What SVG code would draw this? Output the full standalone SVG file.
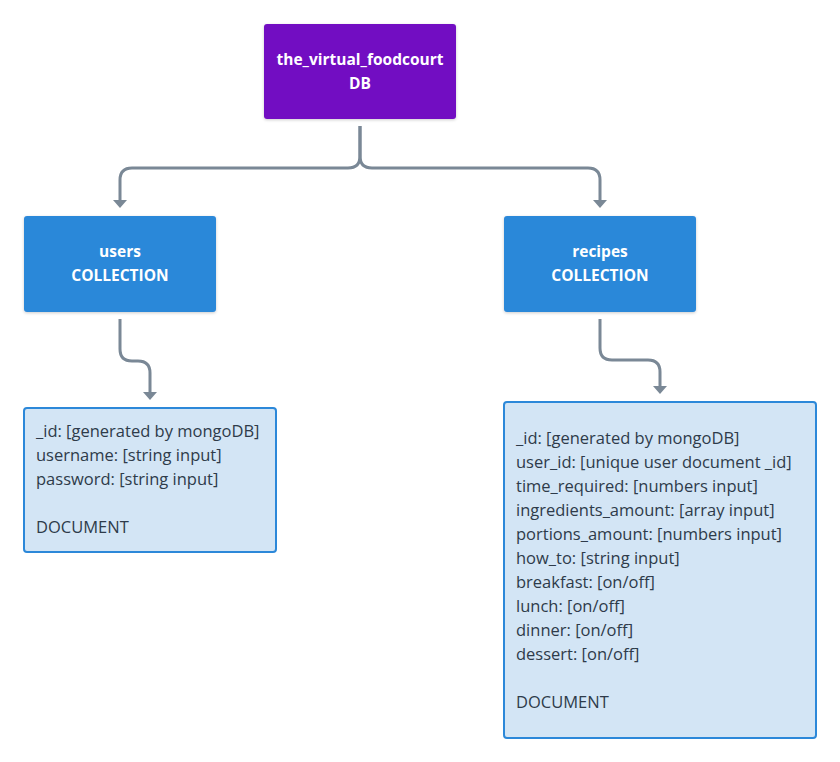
<svg xmlns="http://www.w3.org/2000/svg" width="840" height="762" viewBox="0 0 840 762">
<style>
.t{font-family:"Open Sans","Liberation Sans",sans-serif;font-size:16.5px}
.w{fill:#ffffff;font-weight:bold;text-anchor:middle;font-size:15.5px}
.d{fill:#2e3b4a}
.conn{fill:none;stroke:#7a8896;stroke-width:3}
.doc{fill:#d3e5f5;stroke:#2c88d9;stroke-width:2}
</style>
<defs>
<filter id="sh" x="-10%" y="-10%" width="120%" height="130%">
<feDropShadow dx="0" dy="1" stdDeviation="1.5" flood-color="#000" flood-opacity="0.2"/>
</filter>
</defs>
<g id="connectors">
<path class="conn" d="M360,126 V156 Q360,168 348,168 H132 Q120,168 120,180 V200"/>
<path class="conn" d="M360,126 V156 Q360,168 372,168 H588 Q600,168 600,180 V200"/>
<path d="M113,200 L127,200 L120,208 Z" fill="#7a8896"/>
<path d="M593,200 L607,200 L600,208 Z" fill="#7a8896"/>
<path class="conn" d="M120,319 V349 Q120,361 132,361 H138 Q150,361 150,373 V392"/>
<path d="M143,392 L157,392 L150,400 Z" fill="#7a8896"/>
<path class="conn" d="M600,319 V348 Q600,360 612,360 H648 Q660,360 660,372 V386"/>
<path d="M653,386 L667,386 L660,394 Z" fill="#7a8896"/>
</g>
<g id="db">
<rect x="264" y="24" width="192" height="95" rx="3" fill="#7211c2" filter="url(#sh)"/>
<text class="t w" x="360" y="65">the_virtual_foodcourt</text>
<text class="t w" x="360" y="89">DB</text>
</g>
<g id="users">
<rect x="24" y="216" width="192" height="96" rx="3" fill="#2c88d9" filter="url(#sh)"/>
<text class="t w" x="120" y="257">users</text>
<text class="t w" x="120" y="281">COLLECTION</text>
</g>
<g id="recipes">
<rect x="504" y="216" width="192" height="96" rx="3" fill="#2c88d9" filter="url(#sh)"/>
<text class="t w" x="600" y="257">recipes</text>
<text class="t w" x="600" y="281">COLLECTION</text>
</g>
<g id="users-doc">
<rect class="doc" x="24" y="408" width="252" height="144" rx="3"/>
<text class="t d" x="36" y="437">_id: [generated by mongoDB]</text>
<text class="t d" x="36" y="461">username: [string input]</text>
<text class="t d" x="36" y="485">password: [string input]</text>
<text class="t d" x="36" y="533">DOCUMENT</text>
</g>
<g id="recipes-doc">
<rect class="doc" x="504" y="402" width="312" height="336" rx="3"/>
<text class="t d" x="516" y="444">_id: [generated by mongoDB]</text>
<text class="t d" x="516" y="468">user_id: [unique user document _id]</text>
<text class="t d" x="516" y="492">time_required: [numbers input]</text>
<text class="t d" x="516" y="516">ingredients_amount: [array input]</text>
<text class="t d" x="516" y="540">portions_amount: [numbers input]</text>
<text class="t d" x="516" y="564">how_to: [string input]</text>
<text class="t d" x="516" y="588">breakfast: [on/off]</text>
<text class="t d" x="516" y="612">lunch: [on/off]</text>
<text class="t d" x="516" y="636">dinner: [on/off]</text>
<text class="t d" x="516" y="660">dessert: [on/off]</text>
<text class="t d" x="516" y="708">DOCUMENT</text>
</g>
</svg>
